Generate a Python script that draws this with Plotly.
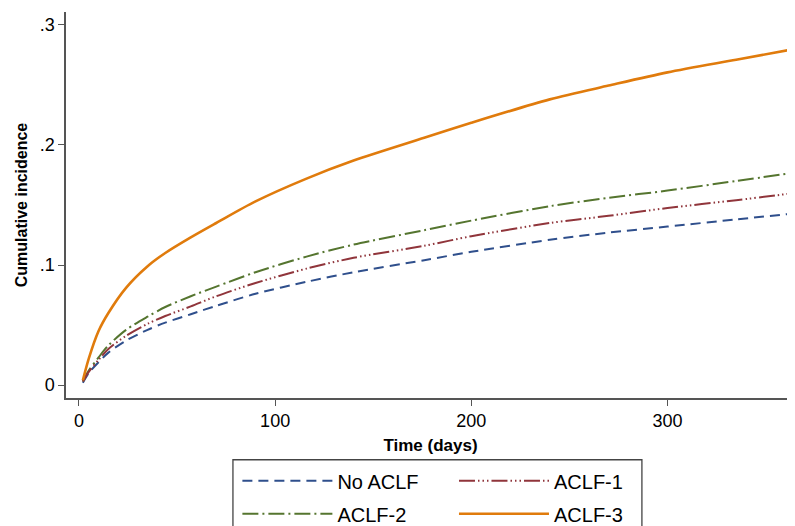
import plotly.graph_objects as go

days = [2, 5, 10, 15, 24, 35, 44, 57, 70, 90, 116, 140, 176, 200, 240, 270, 300, 335, 365]
no_aclf = [0.002, 0.010, 0.019, 0.027, 0.037, 0.046, 0.052, 0.059, 0.066, 0.076, 0.086, 0.094, 0.104, 0.111, 0.121, 0.127, 0.132, 0.138, 0.143]
aclf1 = [0.003, 0.011, 0.021, 0.030, 0.041, 0.051, 0.0575, 0.0655, 0.074, 0.085, 0.097, 0.106, 0.116, 0.124, 0.135, 0.141, 0.1475, 0.154, 0.160]
aclf2 = [0.003, 0.012, 0.023, 0.033, 0.046, 0.057, 0.065, 0.074, 0.082, 0.094, 0.107, 0.117, 0.129, 0.137, 0.149, 0.156, 0.162, 0.170, 0.177]
aclf3 = [0.004, 0.022, 0.045, 0.060, 0.081, 0.099, 0.110, 0.123, 0.135, 0.153, 0.172, 0.187, 0.206, 0.2185, 0.238, 0.2495, 0.2605, 0.271, 0.280]

names = ["No ACLF", "ACLF-1", "ACLF-2", "ACLF-3"]
x_ticks = [0, 100, 200, 300]
y_ticks = [0, 0.1, 0.2, 0.3]
y_ticktext = ["0", ".1", ".2", ".3"]

FONT = "Liberation Sans, Arial, sans-serif"

fig = go.Figure()
specs = [
    (names[0], no_aclf, "#2f4f8c", "10px,6px", 2, "legend"),
    (names[2], aclf2, "#55752f", "16px,4px,2px,4px", 2, "legend"),
    (names[1], aclf1, "#90353b", "16px,3px,1.5px,3px,1.5px,3px,1.5px,3px", 2, "legend2"),
    (names[3], aclf3, "#e07b0c", "solid", 2.6, "legend2"),
]
for nm, ys, col, dash, w, lg in specs:
    fig.add_trace(go.Scatter(
        x=days, y=ys, name=nm, mode="lines",
        line=dict(color=col, dash=dash, width=w, shape="spline", smoothing=0.8),
        legend=lg, legendgroup=nm,
    ))

axis_col = "#555555"
leg_common = dict(
    yref="container", y=0.1249, xanchor="left", yanchor="top",
    orientation="v", font=dict(size=20), bgcolor="rgba(0,0,0,0)",
    itemwidth=90, tracegroupgap=4,
)
fig.update_layout(
    width=787, height=518,
    margin=dict(l=58, r=0, t=4, b=128),
    paper_bgcolor="white", plot_bgcolor="white",
    font=dict(family=FONT, color="black", size=18),
    xaxis=dict(
        range=[-6.6, 365], tickvals=x_ticks, ticks="outside", ticklen=6,
        tickcolor=axis_col, tickwidth=1.3, showline=True, linecolor=axis_col,
        linewidth=1.5, showgrid=False, zeroline=False, automargin=False,
        tickfont=dict(size=18),
        title=dict(text="<b>Time (days)</b>", font=dict(size=17), standoff=9),
    ),
    yaxis=dict(
        range=[-0.0108, 0.3108], tickvals=y_ticks, ticktext=y_ticktext,
        ticks="outside", ticklen=6, tickcolor=axis_col, tickwidth=1.3,
        showline=True, linecolor=axis_col, linewidth=1.5, showgrid=False,
        zeroline=False, automargin=False, tickfont=dict(size=18),
        title=dict(text="<b>Cumulative incidence</b>", font=dict(size=16), standoff=8),
    ),
    legend=dict(x=0.2351, **leg_common),
    legend2=dict(x=0.5322, **leg_common),
    shapes=[dict(
        type="rect", xref="paper", yref="paper",
        x0=0.229, x1=0.790, y0=-0.160, y1=-0.40,
        line=dict(color="#444444", width=1.3), fillcolor="rgba(0,0,0,0)",
    )],
    showlegend=True,
)

fig.write_html("out.html")
